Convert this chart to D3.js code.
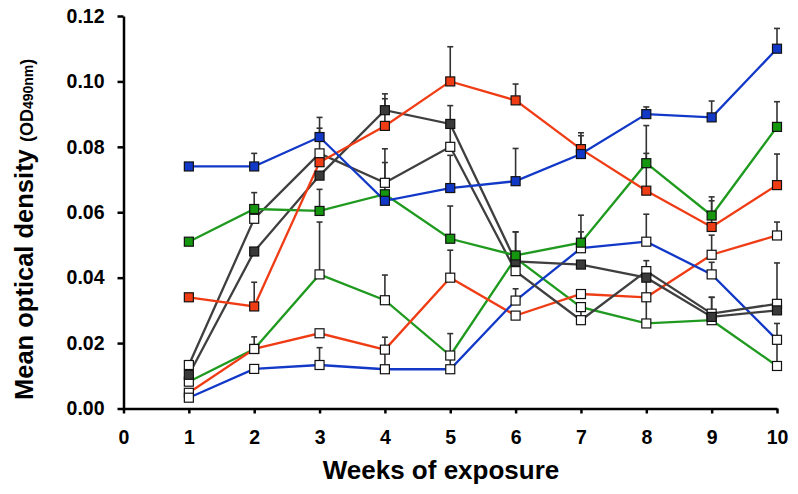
<!DOCTYPE html>
<html>
<head>
<meta charset="utf-8">
<script src="https://cdn.jsdelivr.net/npm/d3@7/dist/d3.min.js"></script>
<style>
  html, body { margin: 0; padding: 0; background: #fff; }
  svg { display: block; }
  text { font-family: "Liberation Sans", Arial, sans-serif; font-weight: bold; }
</style>
</head>
<body>
<svg id="chart" width="798" height="494"></svg>
<script>
// ---- data ----
const weeks = [1, 2, 3, 4, 5, 6, 7, 8, 9, 10];
const xTicks = [0, 1, 2, 3, 4, 5, 6, 7, 8, 9, 10];
const yTicks = [0, 0.02, 0.04, 0.06, 0.08, 0.10, 0.12];

const blueFilled     = [0.074, 0.074, 0.083, 0.0635, 0.0674, 0.0695, 0.0778, 0.090, 0.089, 0.110];
const blueFilledErr  = [null, 0.004, 0.006, null, 0.010, 0.010, 0.0056, 0.0022, 0.005, 0.0062];
const redFilled      = [0.034, 0.0312, 0.0753, 0.0864, 0.100, 0.0942, 0.0793, 0.0666, 0.0555, 0.0683];
const redFilledErr   = [null, 0.0074, 0.0104, 0.0083, 0.0106, 0.005, 0.005, 0.0114, 0.008, 0.0095];
const greenFilled    = [0.051, 0.061, 0.0604, 0.0655, 0.0519, 0.0468, 0.0507, 0.075, 0.059, 0.0861];
const greenFilledErr = [null, 0.005, 0.0066, 0.0097, 0.010, null, 0.0084, 0.0115, 0.0057, 0.0077];
const grayFilled     = [0.0103, 0.048, 0.0712, 0.0912, 0.087, 0.045, 0.044, 0.040, 0.028, 0.030];
const grayFilledErr  = [null, null, null, 0.005, 0.0056, 0.009, null, null, null, null];
const grayOpen       = [0.0133, 0.058, 0.078, 0.069, 0.080, 0.042, 0.027, 0.042, 0.029, 0.032];
const grayOpenErr    = [null, null, null, 0.0104, 0.008, 0.012, 0.004, 0.0032, 0.005, 0.0125];
const blueOpen       = [0.0033, 0.0121, 0.0133, 0.012, 0.012, 0.033, 0.049, 0.051, 0.041, 0.021];
const blueOpenErr    = [null, null, 0.0053, 0.006, 0.004, 0.0036, 0.005, 0.0084, 0.0037, 0.005];
const redOpen        = [0.0048, 0.0182, 0.023, 0.018, 0.040, 0.0284, 0.035, 0.034, 0.047, 0.0529];
const redOpenErr     = [null, 0.0037, null, 0.0038, 0.0084, null, null, 0.006, 0.006, 0.0041];
const greenOpen      = [0.0082, 0.0182, 0.041, 0.0331, 0.0162, 0.046, 0.031, 0.026, 0.027, 0.013];
const greenOpenErr   = [null, null, 0.016, 0.0077, 0.0067, null, null, 0.008, 0.007, 0.008];

const series = [
  { values: greenOpen,   err: greenOpenErr,   line: "#1f9a1f", fill: "#ffffff" },
  { values: redOpen,     err: redOpenErr,     line: "#f03c14", fill: "#ffffff" },
  { values: blueOpen,    err: blueOpenErr,    line: "#1238c8", fill: "#ffffff" },
  { values: grayOpen,    err: grayOpenErr,    line: "#3f3f3f", fill: "#ffffff" },
  { values: grayFilled,  err: grayFilledErr,  line: "#3f3f3f", fill: "#3a3a3a" },
  { values: greenFilled, err: greenFilledErr, line: "#1f9a1f", fill: "#14960f" },
  { values: redFilled,   err: redFilledErr,   line: "#f03c14", fill: "#f03c14" },
  { values: blueFilled,  err: blueFilledErr,  line: "#1238c8", fill: "#1238c8" }
];

// ---- layout ----
const svg = d3.select("#chart");
const x = d3.scaleLinear().domain([0, 10]).range([123.5, 777]);
const y = d3.scaleLinear().domain([0, 0.12]).range([408.5, 16]);

svg.append("rect").attr("width", 798).attr("height", 494).attr("fill", "#fff");

// error bars
const errG = svg.append("g");
series.forEach(s => {
  weeks.forEach((w, i) => {
    const e = s.err[i];
    if (e == null) return;
    const top = y(s.values[i] + e);
    errG.append("line")
      .attr("x1", x(w)).attr("x2", x(w))
      .attr("y1", y(s.values[i])).attr("y2", top)
      .attr("stroke", "#333").attr("stroke-width", 1.6);
    errG.append("line")
      .attr("x1", x(w) - 3).attr("x2", x(w) + 3)
      .attr("y1", top).attr("y2", top)
      .attr("stroke", "#333").attr("stroke-width", 1.6);
  });
});

// lines
const lineGen = d3.line().x((d, i) => x(weeks[i])).y(d => y(d));
series.forEach(s => {
  svg.append("path")
    .attr("d", lineGen(s.values))
    .attr("fill", "none")
    .attr("stroke", s.line)
    .attr("stroke-width", 2.3);
});

// markers
const ms = 9;
series.forEach(s => {
  svg.append("g").selectAll("rect")
    .data(s.values)
    .join("rect")
    .attr("x", (d, i) => x(weeks[i]) - ms / 2)
    .attr("y", d => y(d) - ms / 2)
    .attr("width", ms).attr("height", ms)
    .attr("fill", s.fill)
    .attr("stroke", "#111")
    .attr("stroke-width", 1.2);
});

// axes
const xAxis = svg.append("g")
  .attr("transform", `translate(0,${y(0)})`)
  .call(d3.axisBottom(x).tickValues(xTicks).tickFormat(d3.format("d")).tickSize(5).tickSizeOuter(0).tickPadding(17));
const yAxis = svg.append("g")
  .attr("transform", `translate(${x(0)},0)`)
  .call(d3.axisLeft(y).tickValues(yTicks).tickFormat(d3.format(".2f")).tickSize(6).tickSizeOuter(0).tickPadding(13));

[xAxis, yAxis].forEach(a => {
  a.select(".domain").attr("stroke", "#000").attr("stroke-width", 2.5);
  a.selectAll(".tick line").attr("stroke", "#000").attr("stroke-width", 2.5);
  a.selectAll(".tick text")
    .attr("fill", "#000")
    .style("font-family", "'Liberation Sans', Arial, sans-serif")
    .style("font-weight", "bold")
    .style("font-size", "19.5px");
});

// axis titles
svg.append("text")
  .attr("x", 441).attr("y", 479)
  .attr("text-anchor", "middle")
  .style("font-size", "26px")
  .text("Weeks of exposure");

const yl = svg.append("text")
  .attr("transform", "translate(33,400) rotate(-90)")
  .attr("text-anchor", "start");
yl.append("tspan").style("font-size", "25.5px").text("Mean optical density ");
yl.append("tspan").style("font-size", "18px").text("(OD");
yl.append("tspan").style("font-size", "14px").text("490nm");
yl.append("tspan").style("font-size", "18px").text(")");
</script>
</body>
</html>
